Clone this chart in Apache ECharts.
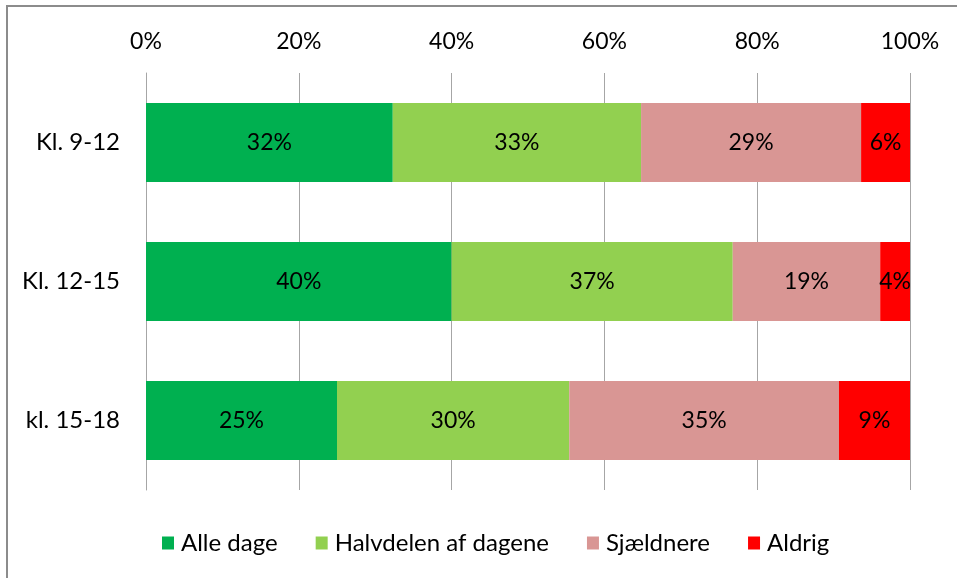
<!DOCTYPE html>
<html><head><meta charset="utf-8">
<script src="https://cdn.jsdelivr.net/npm/echarts@6/dist/echarts.min.js"></script>
<style>html,body{margin:0;padding:0;background:#fff}#c{width:957px;height:578px}</style>
</head><body><div id="c"></div>
<script>
const categories = ['Kl. 9-12', 'Kl. 12-15', 'kl. 15-18'];
const seriesNames = ['Alle dage', 'Halvdelen af dagene', 'Sjældnere', 'Aldrig'];
const alleDage = [32.3, 40.0, 25.0];
const halvdelen = [32.5, 36.8, 30.4];
const sjaeldnere = [28.8, 19.3, 35.3];
const aldrig = [6.4, 3.9, 9.3];
const xTicks = [0, 20, 40, 60, 80, 100];
const colors = ['#00B050', '#92D050', '#D99694', '#FF0000'];

const FONT = 'Lato';
const FS = 23;
const values = [alleDage, halvdelen, sjaeldnere, aldrig];
const chart = echarts.init(document.getElementById('c'));
chart.setOption({
  animation: false,
  textStyle: { fontFamily: FONT },
  graphic: [{
    type: 'rect', shape: { x: 7, y: 6, width: 1000, height: 700 },
    style: { fill: 'none', stroke: '#8c8c8c', lineWidth: 2 }, silent: true, z: -1
  }],
  grid: { left: 146, right: 47, top: 73, bottom: 88 },
  legend: {
    bottom: 18, left: 157, itemWidth: 12, itemHeight: 13, itemGap: 38,
    icon: 'rect', textStyle: { fontSize: 24, color: '#000', fontFamily: FONT, padding: [0, 0, 0, 2] },
    data: seriesNames
  },
  xAxis: {
    type: 'value', position: 'top', min: 0, max: 100, interval: 20,
    axisLine: { show: false }, axisTick: { show: false },
    splitLine: { show: true, lineStyle: { color: '#a6a6a6', width: 1 } },
    axisLabel: { formatter: v => xTicks.includes(v) ? v + '%' : '', fontSize: FS, color: '#000', margin: 20, fontFamily: FONT }
  },
  yAxis: {
    type: 'category', data: categories, inverse: true,
    axisLine: { show: true, lineStyle: { color: '#a6a6a6' } }, axisTick: { show: false },
    axisLabel: { fontSize: 24, color: '#000', margin: 26, fontFamily: FONT }
  },
  series: seriesNames.map((n, i) => ({
    name: n, type: 'bar', stack: 'all', data: values[i], barWidth: 79,
    itemStyle: { color: colors[i] },
    label: { show: true, position: 'inside', formatter: p => Math.round(p.value) + '%', fontSize: FS, color: '#000', fontFamily: FONT }
  }))
});
</script></body></html>
